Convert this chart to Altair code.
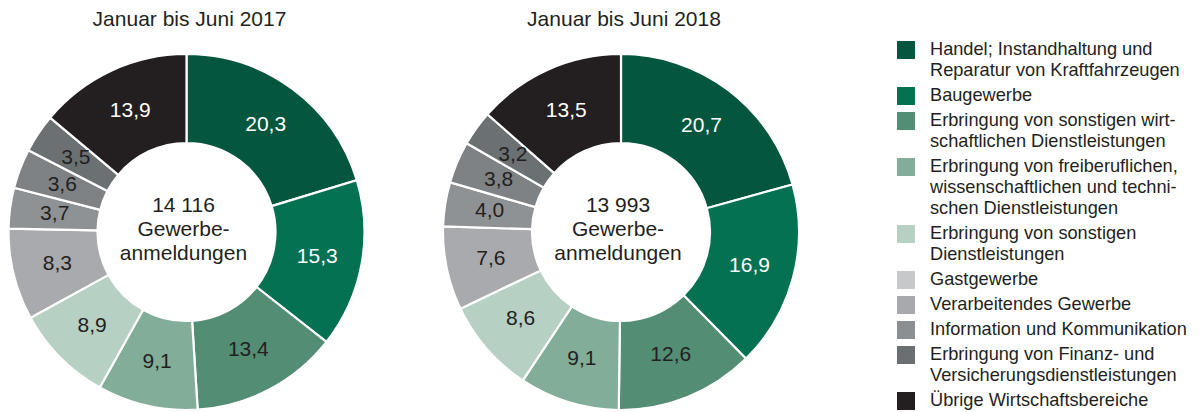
import altair as alt
import pandas as pd

# Wirtschaftsbereiche in clockwise slice order (also the legend order)
categories = [
    "Handel; Instandhaltung und Reparatur von Kraftfahrzeugen",
    "Baugewerbe",
    "Erbringung von sonstigen wirtschaftlichen Dienstleistungen",
    "Erbringung von freiberuflichen, wissenschaftlichen und technischen Dienstleistungen",
    "Erbringung von sonstigen Dienstleistungen",
    "Gastgewerbe",
    "Verarbeitendes Gewerbe",
    "Information und Kommunikation",
    "Erbringung von Finanz- und Versicherungsdienstleistungen",
    "Übrige Wirtschaftsbereiche",
]

# legend texts, "|" marks a line break
legend_labels = [
    "Handel; Instandhaltung und|Reparatur von Kraftfahrzeugen",
    "Baugewerbe",
    "Erbringung von sonstigen wirt-|schaftlichen Dienstleistungen",
    "Erbringung von freiberuflichen,|wissenschaftlichen und techni-|schen Dienstleistungen",
    "Erbringung von sonstigen|Dienstleistungen",
    "Gastgewerbe",
    "Verarbeitendes Gewerbe",
    "Information und Kommunikation",
    "Erbringung von Finanz- und|Versicherungsdienstleistungen",
    "Übrige Wirtschaftsbereiche",
]

# shares of Gewerbeanmeldungen in percent
shares_2017 = [20.3, 15.3, 13.4, 9.1, 8.9, 8.3, 3.7, 3.6, 3.5, 13.9]
shares_2018 = [20.7, 16.9, 12.6, 9.1, 8.6, 7.6, 4.0, 3.8, 3.2, 13.5]
totals = [14116, 13993]
periods = ["Januar bis Juni 2017", "Januar bis Juni 2018"]

slice_colors = ["#04563f", "#037152", "#528d74", "#82ad98", "#b6d0c3",
                "#a8aaad", "#8f9295", "#7e8285", "#6b7073", "#231f20"]
legend_colors = ["#04563f", "#037152", "#528d74", "#82ad98", "#b6d0c3",
                 "#c7c8ca", "#a7a9ac", "#8c8f92", "#6a6f72", "#231f20"]
dark_slices = [categories[0], categories[1], categories[9]]

FONT = "Liberation Sans"
TEXT = "#231f20"
OUTER, INNER = 178, 89
CY = 232
centers_x = [186.5, 621]


def german(n):
    return f"{n:,}".replace(",", " ")


def donut(shares, total, period, cx):
    df = pd.DataFrame({"kategorie": categories, "anteil": shares,
                       "rang": list(range(len(categories)))})
    base = alt.Chart(df).encode(
        theta=alt.Theta("anteil:Q", stack=True, scale=alt.Scale(domain=[0, 100])),
        order=alt.Order("rang:Q"),
        x=alt.value(cx),
        y=alt.value(CY),
    )
    arcs = base.mark_arc(radius=OUTER, radius2=INNER, stroke="white",
                         strokeWidth=2.2).encode(
        color=alt.Color("kategorie:N", legend=None,
                        scale=alt.Scale(domain=categories, range=slice_colors))
    )
    labels = base.mark_text(radius=133, fontSize=21, font=FONT).transform_calculate(
        txt="replace(format(datum.anteil, '.1f'), '.', ',')"
    ).encode(
        text="txt:N",
        color=alt.condition(
            alt.FieldOneOfPredicate(field="kategorie", oneOf=dark_slices),
            alt.value("white"), alt.value(TEXT)),
    )
    center = alt.Chart(pd.DataFrame({"t": [f"{german(total)}|Gewerbe-|anmeldungen"]})).mark_text(
        fontSize=21, font=FONT, color=TEXT, lineBreak="|", lineHeight=24,
        baseline="middle", align="center", dx=-3,
    ).encode(text="t:N", x=alt.value(cx), y=alt.value(CY - 26))
    title = alt.Chart(pd.DataFrame({"t": [period]})).mark_text(
        fontSize=21, font=FONT, color=TEXT, baseline="middle", align="center",
    ).encode(text="t:N", x=alt.value(cx + 3), y=alt.value(20))
    return [arcs, labels, center, title]


# legend rows: each entry's first line sits level with its swatch
line_counts = [len(lbl.split("|")) for lbl in legend_labels]
ypos, y = [], 50
for n in line_counts:
    ypos.append(y)
    y += 25 + 21 * (n - 1)
legend_df = pd.DataFrame({"kategorie": categories, "label": legend_labels, "ypos": ypos})

legend_y = alt.Y("ypos:Q", scale=None, axis=None)
swatches = alt.Chart(legend_df).mark_square(size=324, opacity=1).encode(
    x=alt.value(906), y=legend_y,
    color=alt.Color("kategorie:N", legend=None,
                    scale=alt.Scale(domain=categories, range=legend_colors)),
)
legend_text = alt.Chart(legend_df).mark_text(
    align="left", baseline="middle", lineBreak="|", lineHeight=21,
    fontSize=18.2, font=FONT, color=TEXT,
).encode(x=alt.value(930), y=legend_y, text="label:N")

layers = (donut(shares_2017, totals[0], periods[0], centers_x[0])
          + donut(shares_2018, totals[1], periods[1], centers_x[1])
          + [swatches, legend_text])

chart = alt.layer(*layers).resolve_scale(
    color="independent", theta="independent"
).properties(
    width=1202, height=412, padding=0, autosize="none", background="white"
).configure_view(stroke=None)

chart.save("out.html", embed_options={"renderer": "svg", "actions": False})
